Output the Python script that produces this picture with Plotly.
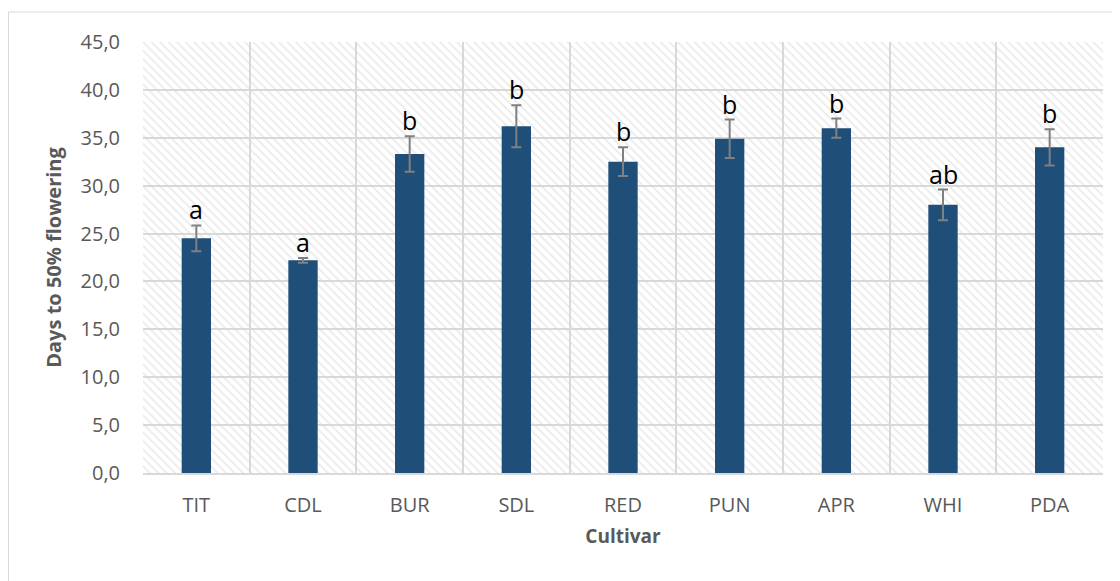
import plotly.graph_objects as go

cultivars = ["TIT", "CDL", "BUR", "SDL", "RED", "PUN", "APR", "WHI", "PDA"]
days_mean = [24.5, 22.2, 33.3, 36.2, 32.5, 34.9, 36.0, 28.0, 34.0]
days_err = [1.35, 0.25, 1.85, 2.2, 1.5, 2.0, 1.0, 1.6, 1.9]
letters = ["a", "a", "b", "b", "b", "b", "b", "ab", "b"]
y_max = 45

FONT = "Open Sans"
GREY_TXT = "#595959"
GRID = "#d9d9d9"

fig = go.Figure()

# hatched plot background
fig.add_trace(go.Bar(
    x=cultivars, y=[y_max] * len(cultivars), width=1,
    marker=dict(color="rgba(0,0,0,0)", line=dict(width=0),
                pattern=dict(shape="\\", fgcolor="#d6d6d6", bgcolor="rgba(0,0,0,0)",
                             size=6, solidity=0.3)),
    hoverinfo="skip", showlegend=False,
))

fig.add_trace(go.Bar(
    x=cultivars, y=days_mean, width=0.275,
    marker=dict(color="#1f4e79", line=dict(width=0)),
    error_y=dict(type="data", array=days_err, visible=True,
                 color="#808080", thickness=2, width=5),
    showlegend=False,
))

for c, m, e, t in zip(cultivars, days_mean, days_err, letters):
    fig.add_annotation(x=c, y=m + e, text=t, showarrow=False,
                       yanchor="bottom", yshift=-3,
                       font=dict(family=FONT, size=25, color="#000000"))

fig.add_shape(type="rect", xref="paper", yref="paper",
              x0=-0.1401, y0=-0.35, x1=1.05, y1=1.0696,
              line=dict(color=GRID, width=1), fillcolor="rgba(0,0,0,0)", layer="below")

fig.update_layout(
    width=1112, height=573,
    margin=dict(l=135, r=17, t=34, b=108, autoexpand=False),
    paper_bgcolor="white", plot_bgcolor="white",
    barmode="overlay",
    separators=",.",
    font=dict(family=FONT, color=GREY_TXT, size=20),
    xaxis=dict(
        type="category", tickson="boundaries", showgrid=True, gridcolor=GRID, gridwidth=2,
        showline=True, linecolor=GRID, linewidth=2, mirror=False,
        ticks="", ticklabelstandoff=13,
        tickfont=dict(family=FONT, size=20, color=GREY_TXT),
        title=dict(text="<b>Cultivar</b>", standoff=13,
                   font=dict(family=FONT, size=19, color=GREY_TXT)),
        range=[-0.5, 8.5],
    ),
    yaxis=dict(
        range=[0, y_max], dtick=5, tickformat=".1f",
        showgrid=True, gridcolor=GRID, gridwidth=2, zeroline=False,
        showline=False, ticks="", ticklabelstandoff=22,
        tickfont=dict(family=FONT, size=20, color=GREY_TXT),
        title=dict(text="<b>Days to 50% flowering</b>", standoff=13,
                   font=dict(family=FONT, size=20, color=GREY_TXT)),
    ),
)

fig.write_html("out.html")
